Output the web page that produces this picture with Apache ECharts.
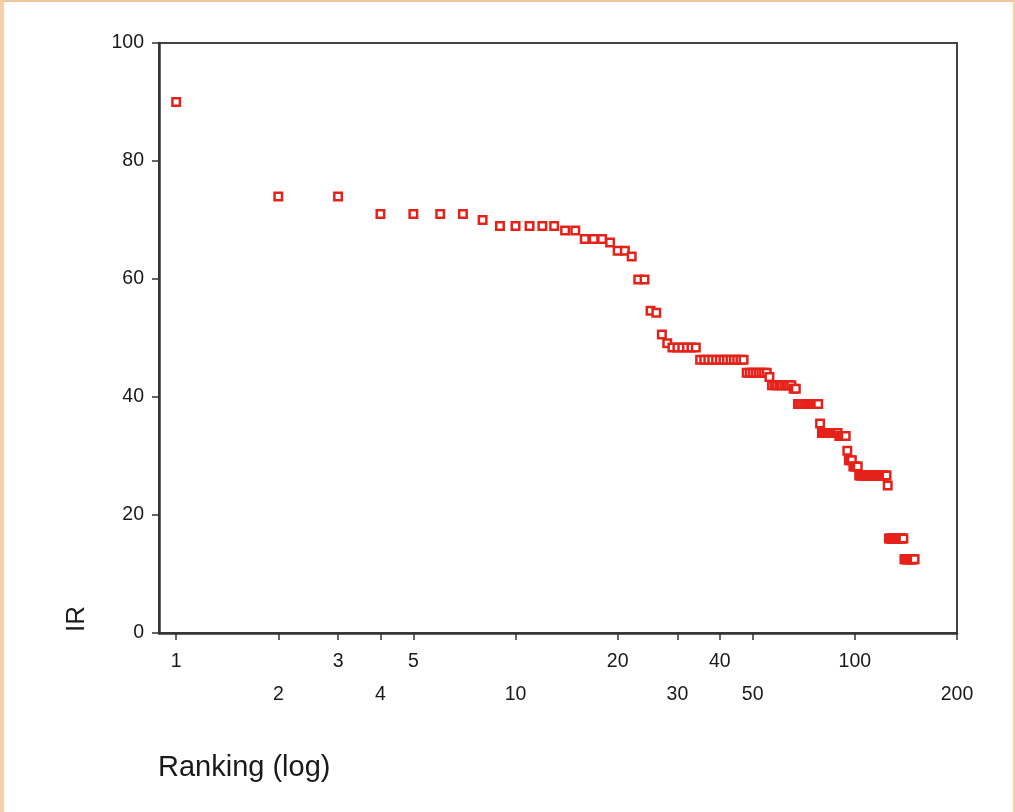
<!DOCTYPE html>
<html>
<head>
<meta charset="utf-8">
<script src="https://cdn.jsdelivr.net/npm/echarts@6/dist/echarts.min.js"></script>
<style>
html,body{margin:0;padding:0;background:#fff;}
#chart{position:absolute;left:0;top:0;width:1015px;height:812px;}
#frame{position:absolute;left:0;top:0;width:1015px;height:812px;box-sizing:border-box;
  border-left:4px solid #f6cfab;border-top:2px solid #efc59d;border-right:2px solid #f6cfab;pointer-events:none;}
</style>
</head>
<body>
<div id="chart"></div>
<div id="frame"></div>
<script>
// Ranking (x) and IR (y)
const ranks = [
  1,2,3,4,5,6,7,8,9,10,
  11,12,13,14,15,16,17,18,19,20,
  21,22,23,24,25,26,27,28,29,30,
  31,32,33,34,35,36,37,38,39,40,
  41,42,43,44,45,46,47,48,49,50,
  51,52,53,54,55,56,57,58,59,60,
  61,62,63,64,65,66,67,68,69,70,
  71,72,73,74,75,76,77,78,79,80,
  81,82,83,84,85,86,87,88,89,90,
  91,92,93,94,95,96,97,98,99,100,
  101,102,103,104,105,106,107,108,109,110,
  111,112,113,114,115,116,117,118,119,120,
  121,122,123,124,125,126,127,128,129,130,
  131,132,133,134,135,136,137,138,139,140,
  141,142,143,144,145,146,147,148,149,150
];
const irValues = [
  90,74,74,71,71,71,71,70,69,69,
  69,69,69,68.2,68.2,66.8,66.8,66.8,66.2,64.8,
  64.8,63.8,59.9,59.9,54.6,54.3,50.6,49.1,48.4,48.4,
  48.4,48.4,48.4,48.4,46.3,46.3,46.3,46.3,46.3,46.3,
  46.3,46.3,46.3,46.3,46.3,46.3,46.3,44.1,44.1,44.1,
  44.1,44.1,44.1,44.1,44.1,43.4,42.0,42.0,42.0,42.0,
  42.0,42.0,42.0,42.0,42.0,41.4,41.4,38.8,38.8,38.8,
  38.8,38.8,38.8,38.8,38.8,38.8,38.8,38.8,35.5,33.9,
  33.9,33.9,33.9,33.9,33.9,33.9,33.9,33.9,33.9,33.4,
  33.4,33.4,33.4,33.4,30.9,29.3,29.3,29.3,28.2,28.2,
  28.2,28.2,26.7,26.7,26.7,26.7,26.7,26.7,26.7,26.7,
  26.7,26.7,26.7,26.7,26.7,26.7,26.7,26.7,26.7,26.7,
  26.7,26.7,26.7,26.7,25.0,16.0,16.0,16.0,16.0,16.0,
  16.0,16.0,16.0,16.0,16.0,16.0,16.0,16.0,16.0,12.5,
  12.5,12.5,12.5,12.5,12.5,12.5,12.5,12.5,12.5,12.5
];
const xTickValues = [1,2,3,4,5,10,20,30,40,50,100,200];
const xLabelsRow1 = [1,3,5,20,40,100];
const xLabelsRow2 = [2,4,10,30,50,200];
const yTickLabels = ['0','20','40','60','80','100'];
const xAxisTitle = 'Ranking (log)';
const yAxisTitle = 'IR';

const points = ranks.map((r, i) => [r, irValues[i]]);
const FONT = '"Liberation Sans", Arial, sans-serif';
const labelStyle = {color:'#1a1a1a', fontSize:19.5, fontFamily:FONT};

const chart = echarts.init(document.getElementById('chart'), null, {renderer:'canvas'});
chart.setOption({
  animation:false,
  backgroundColor:'#fff',
  grid:{left:159, top:43, right:58, bottom:179, show:true, borderColor:'#444', borderWidth:2, backgroundColor:'transparent'},
  xAxis:[{
    type:'log', min:0.89, max:200, logBase:10,
    axisLine:{show:true, onZero:false, lineStyle:{color:'#333', width:2.5}},
    axisTick:{show:true, inside:false, length:7, customValues:xTickValues, lineStyle:{color:'#333', width:1.5}},
    axisLabel:Object.assign({margin:19, customValues:xLabelsRow1, formatter:v=>String(Math.round(v))}, labelStyle),
    splitLine:{show:false}, minorTick:{show:false}
  },{
    type:'log', min:0.89, max:200, logBase:10, position:'bottom',
    axisLine:{show:false}, axisTick:{show:false},
    axisLabel:Object.assign({margin:52, customValues:xLabelsRow2, formatter:v=>String(Math.round(v))}, labelStyle),
    splitLine:{show:false}
  }],
  yAxis:{
    type:'value', min:0, max:100, interval:20,
    axisLine:{show:true, lineStyle:{color:'#333', width:2.5}},
    axisTick:{show:true, inside:false, length:7, lineStyle:{color:'#333', width:1.5}},
    axisLabel:Object.assign({margin:15, formatter:v=>yTickLabels[Math.round(v/20)]}, labelStyle),
    splitLine:{show:false}
  },
  graphic:[
    {type:'text', x:158, y:768, style:{text:xAxisTitle, fill:'#1a1a1a', font:'29px '+FONT, textAlign:'left', textVerticalAlign:'middle'}},
    {type:'text', x:77, y:619, rotation:Math.PI/2, style:{text:yAxisTitle, fill:'#1a1a1a', font:'26px '+FONT, textAlign:'center', textVerticalAlign:'middle'}}
  ],
  series:[{
    type:'scatter', xAxisIndex:0, yAxisIndex:0,
    data:points,
    symbol:'rect', symbolSize:7.5,
    itemStyle:{color:'#ffffff', borderColor:'#e5221a', borderWidth:2.5, opacity:1}
  }]
});
</script>
</body>
</html>
